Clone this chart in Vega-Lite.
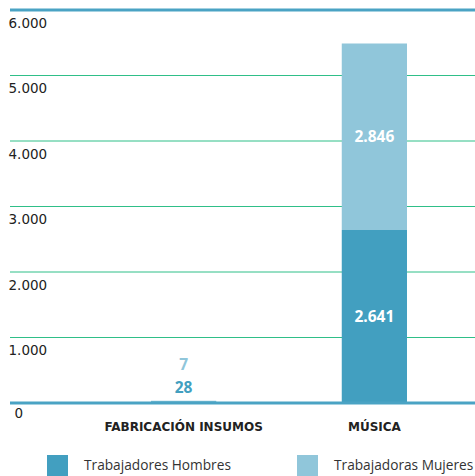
{
  "$schema": "https://vega.github.io/schema/vega-lite/v6.json",
  "width": 465,
  "height": 393,
  "autosize": "none",
  "padding": {"left": 10, "top": 10, "right": 0, "bottom": 73},
  "background": "white",
  "data": {
    "values": [
      {"cat": "FABRICACIÓN INSUMOS", "genero": "Trabajadores Hombres", "valor": 28},
      {"cat": "FABRICACIÓN INSUMOS", "genero": "Trabajadoras Mujeres", "valor": 7},
      {"cat": "MÚSICA", "genero": "Trabajadores Hombres", "valor": 2641},
      {"cat": "MÚSICA", "genero": "Trabajadoras Mujeres", "valor": 2846}
    ]
  },
  "transform": [
    {"calculate": "datum.genero == 'Trabajadores Hombres' ? 0 : 1", "as": "orden"},
    {"stack": "valor", "groupby": ["cat"], "sort": [{"field": "orden", "order": "ascending"}], "as": ["y0", "y1"]},
    {"calculate": "(datum.y0 + datum.y1) / 2", "as": "mid"}
  ],
  "encoding": {
    "x": {
      "field": "cat",
      "type": "nominal",
      "sort": ["FABRICACIÓN INSUMOS", "MÚSICA"],
      "scale": {"range": [141, 397], "paddingInner": 0.658, "paddingOuter": 0},
      "axis": {
        "title": null,
        "labelAngle": 0,
        "domain": false,
        "ticks": false,
        "tickSize": 0,
        "labelPadding": 18,
        "labelFont": "DejaVu Sans",
        "labelFontWeight": "bold",
        "labelFontSize": 12,
        "labelColor": "#222222"
      }
    }
  },
  "layer": [
    {
      "data": {"values": [{"v": 1000}, {"v": 2000}, {"v": 3000}, {"v": 4000}, {"v": 5000}]},
      "mark": {"type": "rule", "color": "#2fbf88", "strokeWidth": 1},
      "encoding": {
        "x": {"value": 0},
        "x2": {"value": 465},
        "y": {"field": "v", "type": "quantitative"}
      }
    },
    {
      "mark": {"type": "bar"},
      "encoding": {
        "y": {
          "field": "y1",
          "type": "quantitative",
          "scale": {"domain": [0, 6000], "nice": false},
          "axis": {
            "title": null,
            "values": [0, 1000, 2000, 3000, 4000, 5000, 6000],
            "labelExpr": "replace(format(datum.value, ','), ',', '.')",
            "domain": false,
            "ticks": false,
            "tickSize": 0,
            "grid": false,
            "labelAlign": "left",
            "labelBaseline": "middle",
            "labelPadding": {"condition": {"test": "datum.value == 0", "value": -4}, "value": 2},
            "labelOffset": {"condition": {"test": "datum.value == 0", "value": 10}, "value": 13},
            "labelFont": "DejaVu Sans",
            "labelFontSize": 13.5,
            "labelColor": "#222222"
          }
        },
        "y2": {"field": "y0"},
        "color": {
          "field": "genero",
          "type": "nominal",
          "sort": ["Trabajadores Hombres", "Trabajadoras Mujeres"],
          "scale": {"domain": ["Trabajadores Hombres", "Trabajadoras Mujeres"], "range": ["#429fc0", "#90c6da"]},
          "legend": {
            "title": null,
            "orient": "none",
            "legendX": 37,
            "legendY": 445,
            "direction": "horizontal",
            "padding": 0,
            "symbolType": "square",
            "symbolSize": 441,
            "symbolStrokeWidth": 0,
            "symbolOpacity": 1,
            "labelFont": "Open Sans",
            "labelFontSize": 13.7,
            "labelColor": "#333333",
            "labelOffset": 16,
            "columnPadding": 66,
            "labelLimit": 300
          }
        }
      }
    },
    {
      "transform": [{"filter": "datum.cat == 'MÚSICA'"}],
      "mark": {"type": "text", "color": "white", "font": "Open Sans", "fontWeight": "bold", "fontSize": 15.5, "baseline": "middle"},
      "encoding": {
        "y": {"field": "mid", "type": "quantitative"},
        "text": {"field": "valor", "type": "quantitative", "format": ",d"}
      }
    },
    {
      "transform": [{"filter": "datum.cat == 'FABRICACIÓN INSUMOS' && datum.genero == 'Trabajadores Hombres'"}],
      "mark": {"type": "text", "color": "#429fc0", "font": "Open Sans", "fontWeight": "bold", "fontSize": 15.5, "baseline": "middle", "dy": -13},
      "encoding": {
        "y": {"field": "y1", "type": "quantitative"},
        "text": {"field": "valor", "type": "quantitative"}
      }
    },
    {
      "transform": [{"filter": "datum.cat == 'FABRICACIÓN INSUMOS' && datum.genero == 'Trabajadoras Mujeres'"}],
      "mark": {"type": "text", "color": "#90c6da", "font": "Open Sans", "fontWeight": "bold", "fontSize": 15.5, "baseline": "middle", "dy": -36},
      "encoding": {
        "y": {"field": "y0", "type": "quantitative"},
        "text": {"field": "valor", "type": "quantitative"}
      }
    },
    {
      "data": {"values": [{"v": 0}, {"v": 6000}]},
      "mark": {"type": "rule", "color": "#4aa3c4", "strokeWidth": 3},
      "encoding": {
        "x": {"value": 0},
        "x2": {"value": 465},
        "y": {"field": "v", "type": "quantitative"}
      }
    }
  ],
  "config": {
    "view": {"stroke": null},
    "locale": {"number": {"decimal": ",", "thousands": ".", "grouping": [3], "currency": ["", "€"]}}
  }
}
